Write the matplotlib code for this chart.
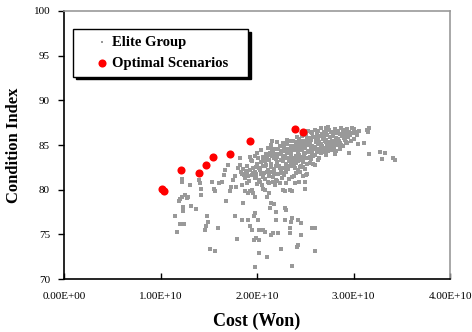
import matplotlib

matplotlib.use('agg')

from matplotlib import pyplot as plt

# cost in units of 1e10 Won, condition index
elite_pts = [
    # sparse left part
    (1.155, 77.05), (1.17, 75.3), (1.20, 76.2), (1.22, 80.9), (1.225, 81.2),
    (1.19, 78.7), (1.20, 78.9), (1.22, 79.2), (1.25, 79.4), (1.27, 79.1),
    (1.29, 79.2), (1.23, 78.1), (1.235, 77.6), (1.24, 76.2), (1.31, 80.5),
    (1.32, 78.2), (1.37, 77.8), (1.40, 81.1), (1.41, 80.7), (1.42, 80.1),
    (1.42, 79.4), (1.48, 77.0), (1.49, 76.4), (1.47, 75.9), (1.46, 75.5),
    (1.51, 73.4), (1.56, 73.1), (1.53, 80.9), (1.55, 80.1), (1.60, 75.7),
    (1.56, 79.8), (1.61, 80.8), (1.64, 80.9), (1.66, 81.6), (1.67, 82.2),
    (1.70, 82.8), (1.68, 78.7), (1.72, 79.9), (1.73, 80.3), (1.75, 81.1),
    (1.77, 81.5), (1.78, 80.3), (1.77, 77.0), (1.79, 74.5), (1.82, 83.5),
    (1.82, 82.8), (1.80, 82.4), (1.84, 81.8), (1.84, 80.5), (1.85, 78.5),
    (1.84, 76.6), (1.87, 81.6), (1.89, 82.1), (1.91, 81.5), (1.88, 79.8),
    (1.91, 79.6), (1.93, 79.8), (1.96, 79.6), (1.98, 79.2), (1.95, 80.0),
    (1.91, 76.6), (1.93, 75.9), (1.95, 75.5), (1.97, 77.0), (1.98, 77.4),
    (1.93, 83.7), (1.94, 83.3), (1.96, 82.4), (1.98, 81.3), (1.99, 81.8),
    (1.97, 74.4), (1.99, 74.6), (1.98, 71.4), (2.02, 72.9), (2.01, 76.6),
    (2.02, 75.5), (2.02, 74.4), (2.03, 80.9), (2.05, 80.5), (2.06, 80.1),
    (2.08, 80.0), (2.06, 83.3), (2.10, 83.7), (2.13, 84.1), (2.15, 84.8),
    (2.16, 85.4), (2.08, 82.6), (2.10, 82.0), (2.12, 81.5), (2.10, 79.2),
    (2.12, 79.6), (2.06, 75.5), (2.08, 75.3), (2.10, 72.5), (2.13, 77.9),
    (2.15, 78.5), (2.18, 78.4), (2.15, 74.9), (2.17, 75.1), (2.20, 77.5),
    (2.20, 76.6), (2.22, 75.1), (2.17, 80.9), (2.20, 81.1), (2.24, 80.7),
    (2.25, 73.4), (2.27, 80.0), (2.29, 79.9), (2.29, 77.9), (2.30, 77.7),
    (2.29, 76.6), (2.34, 80.0), (2.36, 79.8), (2.34, 75.1), (2.34, 75.7),
    (2.35, 76.4), (2.36, 76.8), (2.36, 71.5), (2.38, 81.5), (2.39, 80.7),
    (2.41, 73.6), (2.43, 73.8), (2.43, 76.6), (2.46, 76.3), (2.46, 74.9),
    (2.44, 80.9), (2.48, 81.5), (2.50, 80.9), (2.51, 81.6), (2.50, 80.1),
    (2.57, 75.7), (2.60, 75.7), (2.60, 73.1),
    # right outliers
    (3.05, 85.1), (3.11, 85.2), (3.15, 86.5), (3.16, 86.9), (3.14, 86.7),
    (3.16, 84.0), (3.27, 84.2), (3.33, 84.1), (3.30, 83.4), (3.41, 83.5),
    (3.43, 83.3), (2.95, 84.1), (2.60, 82.8),
    # dense band
    (2.66, 86.9), (2.74, 87.0), (2.81, 86.8), (2.87, 86.9), (2.93, 86.8), (2.98, 86.9),
    (2.56, 86.4), (2.63, 86.6), (2.71, 86.5), (2.77, 86.4), (2.84, 86.6), (2.89, 86.4),
    (2.95, 86.5), (3.02, 86.4), (3.06, 86.6),
    (2.51, 86.1), (2.57, 86.3), (2.67, 86.2), (2.73, 86.1), (2.79, 86.3), (2.86, 86.2),
    (2.92, 86.1), (2.99, 86.3), (3.04, 86.1),
    (2.41, 85.9), (2.47, 86.0), (2.54, 85.8), (2.59, 85.9), (2.65, 86.0), (2.69, 85.8),
    (2.76, 85.9), (2.82, 85.8), (2.88, 86.0), (2.94, 85.9), (3.00, 85.7),
    (2.31, 85.6), (2.37, 85.5), (2.44, 85.7), (2.49, 85.5), (2.56, 85.6), (2.61, 85.5),
    (2.68, 85.7), (2.72, 85.6), (2.78, 85.5), (2.84, 85.7), (2.91, 85.6), (2.97, 85.4),
    (2.21, 85.3), (2.27, 85.2), (2.34, 85.4), (2.40, 85.3), (2.45, 85.2), (2.51, 85.4),
    (2.55, 85.2), (2.61, 85.3), (2.66, 85.1), (2.71, 85.3), (2.76, 85.2), (2.81, 85.4),
    (2.86, 85.2), (2.92, 85.3),
    (2.14, 85.0), (2.24, 84.9), (2.31, 85.1), (2.37, 84.9), (2.43, 85.0), (2.47, 84.8),
    (2.53, 85.0), (2.57, 84.9), (2.63, 85.1), (2.67, 84.9), (2.73, 85.0), (2.77, 84.8),
    (2.84, 85.0), (2.89, 84.9),
    (2.11, 84.7), (2.19, 84.6), (2.28, 84.8), (2.33, 84.6), (2.39, 84.7), (2.44, 84.5),
    (2.50, 84.7), (2.56, 84.6), (2.60, 84.8), (2.65, 84.6), (2.70, 84.7), (2.74, 84.5),
    (2.80, 84.7), (2.86, 84.6),
    (2.04, 84.4), (2.16, 84.3), (2.22, 84.5), (2.29, 84.3), (2.36, 84.4), (2.42, 84.2),
    (2.47, 84.4), (2.53, 84.3), (2.58, 84.5), (2.62, 84.2), (2.68, 84.4), (2.74, 84.3),
    (2.78, 84.4),
    (2.00, 84.1), (2.09, 84.0), (2.17, 84.2), (2.23, 84.0), (2.31, 84.1), (2.35, 83.9),
    (2.42, 84.1), (2.49, 84.0), (2.54, 84.2), (2.60, 83.9), (2.66, 84.1), (2.71, 83.9),
    (2.81, 84.0),
    (1.98, 83.8), (2.06, 83.7), (2.12, 83.9), (2.21, 83.7), (2.27, 83.8), (2.34, 83.6),
    (2.40, 83.8), (2.46, 83.7), (2.52, 83.6), (2.58, 83.8), (2.64, 83.6),
    (2.01, 83.5), (2.10, 83.4), (2.18, 83.5), (2.25, 83.3), (2.31, 83.5), (2.38, 83.4),
    (2.44, 83.3), (2.51, 83.5), (2.56, 83.4), (2.63, 83.3),
    (1.95, 83.2), (2.04, 83.1), (2.12, 83.3), (2.21, 83.1), (2.27, 83.2), (2.35, 83.0),
    (2.42, 83.2), (2.48, 83.1), (2.55, 83.0),
    (2.00, 82.9), (2.09, 82.8), (2.15, 82.9), (2.23, 82.7), (2.30, 82.9), (2.38, 82.8),
    (2.46, 82.7), (2.52, 82.9),
    (1.90, 82.6), (1.99, 82.5), (2.06, 82.7), (2.14, 82.5), (2.20, 82.6), (2.28, 82.4),
    (2.35, 82.6), (2.45, 82.5),
    (1.86, 82.3), (1.93, 82.2), (2.02, 82.4), (2.11, 82.2), (2.18, 82.3), (2.25, 82.1),
    (2.32, 82.3), (2.42, 82.2), (2.50, 82.3),
    (1.83, 82.0), (1.90, 81.9), (1.98, 82.0), (2.07, 81.9), (2.15, 82.0), (2.22, 81.8),
    (2.30, 82.0), (2.40, 81.9),
    (1.86, 81.7), (1.95, 81.6), (2.04, 81.7), (2.12, 81.5), (2.21, 81.7), (2.28, 81.6),
    (2.36, 81.4),
    (1.88, 81.3), (1.99, 81.4), (2.08, 81.2), (2.17, 81.4), (2.26, 81.3), (2.33, 81.2),
    (1.92, 81.0), (2.02, 81.1), (2.11, 80.9), (2.21, 81.0), (2.30, 80.8),
    (1.90, 80.7), (2.00, 80.6), (2.12, 80.8), (2.19, 80.5),
    (2.45, 82.0), (2.48, 82.5), (2.52, 81.8), (2.40, 83.0), (2.58, 82.9), (2.55, 83.7),
    # extra points filling the densest core
    (2.35, 84.05), (2.39, 84.45), (2.45, 84.85), (2.49, 85.15), (2.53, 85.55),
    (2.58, 85.95), (2.62, 86.25), (2.69, 86.4), (2.75, 86.7), (2.79, 86.0),
    (2.70, 85.45), (2.64, 85.35), (2.59, 84.75), (2.55, 84.35), (2.50, 84.15),
    (2.44, 83.85), (2.38, 83.55), (2.33, 83.25), (2.29, 83.65), (2.25, 84.15),
    (2.30, 84.55), (2.35, 84.85), (2.41, 85.1), (2.46, 85.45), (2.52, 85.8),
    (2.63, 85.75), (2.68, 86.05), (2.74, 85.3), (2.80, 85.1), (2.85, 85.4),
    (2.90, 85.8), (2.96, 86.1), (2.83, 86.35), (2.89, 86.7), (2.77, 84.6),
    (2.69, 84.2), (2.62, 84.55), (2.57, 84.15), (2.48, 83.55), (2.41, 83.45),
    (2.36, 83.15), (2.20, 83.45), (2.16, 83.8), (2.26, 84.35), (2.19, 84.0),
    (2.08, 83.2), (2.14, 82.75), (2.24, 82.45), (2.32, 82.7), (2.39, 82.45),
    (2.03, 82.15), (1.96, 81.85), (2.18, 81.85), (2.26, 81.9), (2.06, 81.45),
    (2.53, 86.55), (2.60, 86.7), (2.71, 86.85), (2.92, 86.55), (3.01, 86.8),
    (2.66, 84.85), (2.72, 84.35), (2.82, 84.3), (2.87, 84.95), (2.93, 85.2),
]
elite_cost = [p[0] * 1e10 for p in elite_pts]
elite_ci = [p[1] for p in elite_pts]

opt_cost = [1.02e10, 1.04e10, 1.21e10, 1.40e10, 1.47e10, 1.54e10, 1.72e10, 1.93e10, 2.39e10, 2.48e10]
opt_ci = [80.1, 79.9, 82.2, 81.85, 82.8, 83.7, 84.0, 85.5, 86.75, 86.45]

plt.rcParams['font.family'] = ['Liberation Serif', 'DejaVu Serif']

fig = plt.figure(figsize=(4.72, 3.32), dpi=100)
ax = fig.add_axes([0.1356, 0.1596, 0.8178, 0.8073])

ax.scatter(elite_cost, elite_ci, s=6, marker='s', color='#999999', linewidths=0,
           label='Elite Group', zorder=2)
ax.scatter(opt_cost, opt_ci, s=34, marker='o', color='#ff0000', linewidths=0,
           label='Optimal Scenarios', zorder=3)

ax.set_xlim(0, 4e10)
ax.set_ylim(70, 100)
ax.set_xticks([0, 1e10, 2e10, 3e10, 4e10])
ax.set_xticklabels(['0.00E+00', '1.00E+10', '2.00E+10', '3.00E+10', '4.00E+10'])
ax.set_yticks([70, 75, 80, 85, 90, 95, 100])

ax.tick_params(axis='x', direction='in', length=4, width=1, labelsize=8, pad=9)
ax.tick_params(axis='y', direction='out', length=4, width=1, labelsize=8, pad=6)

ax.spines['left'].set_linewidth(1.2)
ax.spines['bottom'].set_linewidth(1.2)
ax.spines['top'].set_color('#999999')
ax.spines['right'].set_color('#999999')
ax.spines['top'].set_linewidth(1.2)
ax.spines['right'].set_linewidth(1.2)

ax.set_xlabel('Cost (Won)', fontsize=13, fontweight='bold', labelpad=9)
ax.set_ylabel('Condition Index', fontsize=12, fontweight='bold', labelpad=8)

leg = ax.legend(loc='upper left', bbox_to_anchor=(0.023, 0.933, 0.453, 0.0), mode='expand',
                borderaxespad=0, fancybox=False, edgecolor='black', framealpha=1,
                prop={'weight': 'bold', 'size': 10.5}, handlelength=3.1,
                handletextpad=-0.85, labelspacing=0.55, borderpad=0.45,
                shadow={'facecolor': 'black', 'edgecolor': 'black', 'alpha': 1})
leg.get_frame().set_linewidth(1.0)
leg.legend_handles[0].set_sizes([3])

plt.savefig('out.png', dpi=100)
